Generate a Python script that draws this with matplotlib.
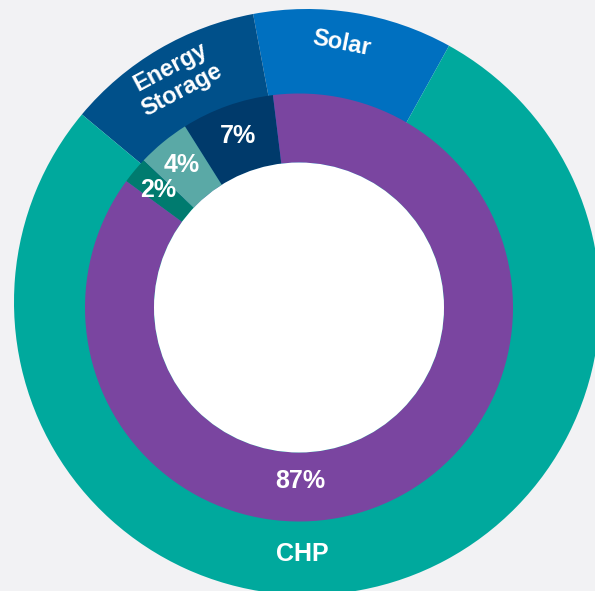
import numpy as np
import matplotlib
matplotlib.use('Agg')
import matplotlib.pyplot as plt

# outer ring (share of capacity)
outer_labels = ['Solar', 'Energy\nStorage', 'CHP']
outer_values = [11, 11, 78]
outer_colors = ['#0070c0', '#00508a', '#00a99d']

# inner ring
inner_labels = ['7%', '4%', '2%', '87%']
inner_values = [7, 4, 2, 87]
inner_colors = ['#003a6b', '#5aa9a6', '#007b6f', '#7a45a0']

W, H = 595, 591
bg = '#f2f2f4'

fig = plt.figure(figsize=(W / 100, H / 100), dpi=100, facecolor=bg)
ax = fig.add_axes([0, 0, 1, 1])
ax.set_facecolor(bg)

# centres in pixel coords (y measured from the top of the image)
outer_c = (307, H - 302)
inner_c = (299, H - 307.5)
r_outer, r_mid, r_hole = 293, 214, 145

outer_start = 61
inner_start = 97

ax.pie(outer_values, colors=outer_colors, startangle=outer_start,
       radius=r_outer, center=outer_c, wedgeprops=dict(linewidth=0))
ax.pie(inner_values, colors=inner_colors, startangle=inner_start,
       radius=r_mid, center=inner_c,
       wedgeprops=dict(width=r_mid - r_hole, linewidth=0))
ax.add_patch(plt.Circle(inner_c, r_hole, color='white', lw=0))


def polar(c, r, ang):
    a = np.deg2rad(ang)
    return c[0] + r * np.cos(a), c[1] + r * np.sin(a)


def mid_angles(values, start):
    edges = start + np.cumsum([0] + list(values)) / sum(values) * 360
    return (edges[:-1] + edges[1:]) / 2


font = dict(family='Liberation Sans', weight='bold', color='white',
            ha='center', va='center', rotation_mode='anchor')

# outer labels
o_mid = mid_angles(outer_values, outer_start)
o_ang = [o_mid[0] + 1.5, o_mid[1], 269]
o_rad = [261, 259, 252]
o_rot = [-11, 28, 0]
o_size = [17, 17, 18]
for lab, a, r, rot, fs in zip(outer_labels, o_ang, o_rad, o_rot, o_size):
    x, y = polar(outer_c, r, a)
    ax.text(x, y, lab, rotation=rot, fontsize=fs, linespacing=1.15, **font)

# inner labels
i_mid = mid_angles(inner_values, inner_start)
i_ang = [i_mid[0], i_mid[1], i_mid[2], 270.3]
i_rad = [182, 185, 183, 174]
for lab, a, r in zip(inner_labels, i_ang, i_rad):
    x, y = polar(inner_c, r, a)
    ax.text(x, y, lab, fontsize=18, **font)

ax.set_xlim(0, W)
ax.set_ylim(0, H)
ax.set_aspect('equal')
ax.axis('off')

fig.savefig('out.png', dpi=100, facecolor=bg)
